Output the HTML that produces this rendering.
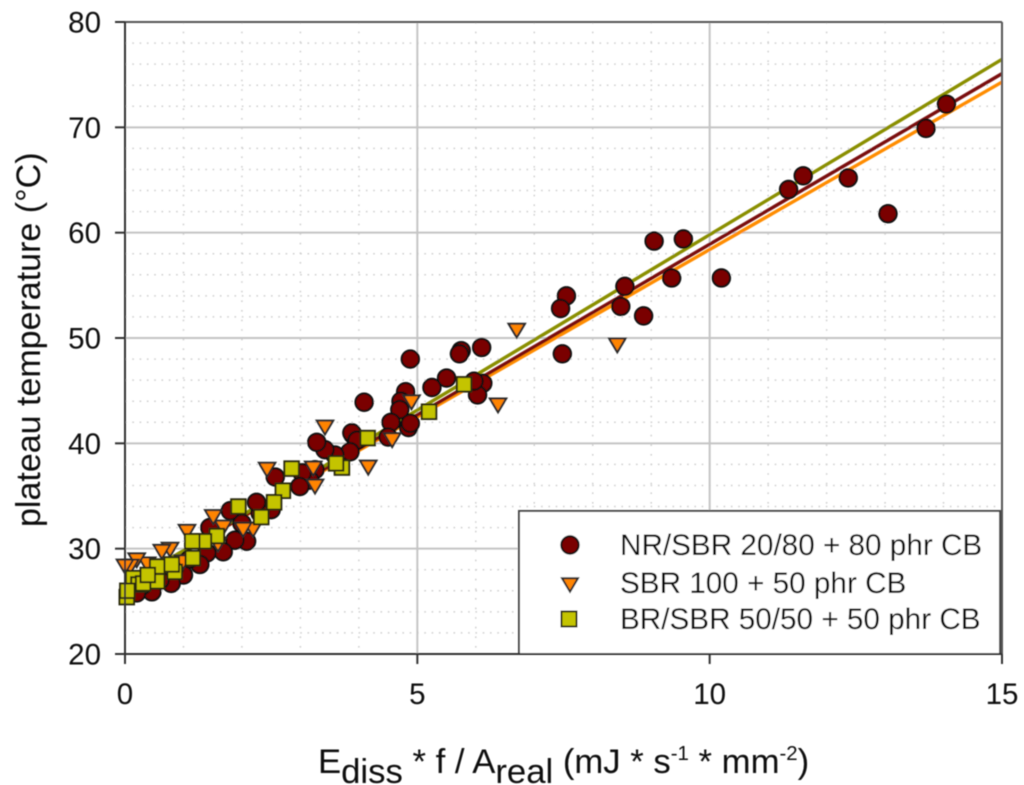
<!DOCTYPE html>
<html>
<head>
<meta charset="utf-8">
<style>
html,body{margin:0;padding:0;background:#fff;width:1024px;height:785px;overflow:hidden}
svg{display:block}
text{font-family:"Liberation Sans",sans-serif;fill:#0a0a0a}
</style>
</head>
<body>
<svg id="chart" width="1024" height="785" viewBox="0 0 1024 785" xmlns="http://www.w3.org/2000/svg">
<defs><filter id="soft" x="-2%" y="-2%" width="104%" height="104%"><feGaussianBlur stdDeviation="0.4"/></filter></defs>
<g id="root" filter="url(#soft)"></g>
</svg>
<script>
const xTicks = [0, 5, 10, 15];
const yTicks = [20, 30, 40, 50, 60, 70, 80];
const xMinor = [1, 2, 3, 4, 6, 7, 8, 9, 11, 12, 13, 14];
const yMinor = [22, 24, 26, 28, 32, 34, 36, 38, 42, 44, 46, 48, 52, 54, 56, 58, 62, 64, 66, 68, 72, 74, 76, 78];

const nrX = [14.05,13.7,13.05,12.37,11.6,11.35,10.2,9.55,9.35,9.05,8.87,8.55,8.48,7.55,7.45,7.48,6.1,6.12,6.03,5.97,5.75,5.72,5.5,5.25,4.88,4.8,4.72,4.7,4.85,4.88,4.55,4.5,4.09,3.9,3.88,3.97,3.85,3.59,3.42,3.28,3.25,3.16,3.03,2.99,2.57,2.5,2.31,2.25,2.08,2.0,1.88,1.8,1.68,1.45,1.4,1.28,1.1,1.0,0.85,0.79,0.6,0.46,0.3,0.2];
const nrY = [72.2,69.9,61.8,65.2,65.4,64.1,55.7,59.4,55.7,59.2,52.1,54.9,53,54,52.8,48.5,49.1,45.7,44.6,45.9,48.8,48.5,46.2,45.3,48,44.9,44,43.2,41.5,41.9,42,40.6,43.9,40.8,41,40.3,39.2,38.9,39.4,40.1,37.5,36.5,37.2,35.9,36.8,33.7,33.4,34.4,30.7,32.4,30.8,33.6,29.7,32,29.6,28.5,29,27.5,28.2,26.7,27,25.9,26.5,25.8];

const sbrX = [8.42,6.7,6.38,4.9,4.57,4.16,3.42,3.25,3.22,2.43,2.19,2.02,1.68,1.59,1.51,1.06,0.99,0.77,0.63,0.38,0.2,0.09,0.0];
const sbrY = [49.3,50.7,43.6,43.9,40.3,37.7,41.5,35.9,37.6,37.5,31.8,31.8,32,30.4,33,31.6,28.7,29.9,29.7,28.5,28.9,28.3,28.3];

const brX = [5.8,5.2,4.15,3.71,3.61,2.85,2.7,2.55,2.33,1.94,1.57,1.35,1.15,1.16,0.85,0.8,0.55,0.55,0.14,0.23,0.31,0.39,0.03,0.04];
const brY = [45.6,43,40.5,37.7,38.1,37.6,35.5,34.4,33,34,31.2,30.7,30.7,29.1,27.8,28.5,28.3,26.9,27.2,26.6,26.7,27.5,25.4,26];

const fitStartX = [0, 0, 0];
const fitEndX = [15, 15, 15];
const fitStartY = [26.5, 26.6, 26.5];
const fitEndY = [75.1, 74.3, 76.46];
const fitNames = ['fit-line-sbr', 'fit-line-nr-sbr', 'fit-line-br-sbr'];
const fitOrder = [1, 0, 2];
const fitColors = ['#7a0a0a', '#ff8c00', '#8a8f00'];

const legendLabels = ['NR/SBR 20/80 + 80 phr CB', 'SBR 100 + 50 phr CB', 'BR/SBR 50/50 + 50 phr CB'];

const NS = 'http://www.w3.org/2000/svg';
const root = document.getElementById('root');
const sx = v => 125 + (v - 0) * (1002 - 125) / 15;
const sy = v => 654 - (v - 20) * (654 - 22) / 60;

function mk(tag, attrs, parent) {
  const el = document.createElementNS(NS, tag);
  for (const k in attrs) el.setAttribute(k, attrs[k]);
  (parent || root).appendChild(el);
  return el;
}

/* minor grid */
xMinor.forEach(v => {
  const el = mk('line', {x1: sx(v), x2: sx(v), y1: 22, y2: 654, stroke: '#cfcfcf', 'stroke-width': 1.5, 'stroke-dasharray': '1.6 8'});
  
  
});
yMinor.forEach(v => {
  const el = mk('line', {x1: 125, x2: 1002, y1: sy(v), y2: sy(v), stroke: '#cfcfcf', 'stroke-width': 1.5, 'stroke-dasharray': '1.6 5.7'});
  
  
});
/* major grid */
xTicks.slice(1, -1).forEach(v => {
  const el = mk('line', {x1: sx(v), x2: sx(v), y1: 22, y2: 654, stroke: '#c4c4c4', 'stroke-width': 2});
  
  
});
yTicks.slice(1, -1).forEach(v => {
  const el = mk('line', {x1: 125, x2: 1002, y1: sy(v), y2: sy(v), stroke: '#c4c4c4', 'stroke-width': 2});
  
  
});

/* fit lines */
fitOrder.forEach((i, k) => {
  const el = mk('line', {x1: sx(fitStartX[i]), y1: sy(fitStartY[i]), x2: sx(fitEndX[i]), y2: sy(fitEndY[i]), stroke: fitColors[i], 'stroke-width': 3.4});
  
  
});

/* markers */
function circleAt(px, py, r, parent) {
  return mk('circle', {cx: px, cy: py, r: r, fill: '#7a0000', stroke: '#0a0a0a', 'stroke-width': 2}, parent);
}
function triAt(px, py, w, parent) {
  const h = w * 0.84;
  const pts = [[px - w / 2, py - h / 2], [px + w / 2, py - h / 2], [px, py + h / 2]].map(p => p.join(',')).join(' ');
  return mk('polygon', {points: pts, fill: '#ff8400', stroke: '#2a2a2a', 'stroke-width': 2, 'stroke-linejoin': 'miter'}, parent);
}
function squareAt(px, py, s, parent) {
  return mk('rect', {x: px - s / 2, y: py - s / 2, width: s, height: s, fill: '#c4c400', stroke: '#2a2a10', 'stroke-width': 2}, parent);
}
nrX.forEach((v, i) => {
  const el = circleAt(sx(v), sy(nrY[i]), 8.7);
  
  
});
sbrX.forEach((v, i) => {
  const el = triAt(sx(v), sy(sbrY[i]), 16.5);
  
  
});
brX.forEach((v, i) => {
  const el = squareAt(sx(v), sy(brY[i]), 14.5);
  
  
});

/* legend box */
const legendBox = mk('rect', {x: 519, y: 511, width: 481, height: 143, fill: '#fff', stroke: '#444', 'stroke-width': 2});


const lgA = circleAt(570, 545, 8.7);


const lgB = triAt(570, 585, 16);


const lgC = squareAt(569, 619, 15);


const legendBase = [555, 593, 629];
legendLabels.forEach((t, i) => {
  const el = mk('text', {x: 620, y: legendBase[i], 'font-size': 29.7});
  el.textContent = t;
  
  
});

/* frame */
const frameNames = ['axis-frame-top', 'axis-frame-right', 'x-axis-line', 'y-axis-line'];
const frameCoords = [[115, 22, 1002, 22, '#555'], [1002, 22, 1002, 664, '#555'], [115, 654, 1002, 654, '#333'], [125, 22, 125, 664, '#333']];
frameNames.forEach((n, i) => {
  const c = frameCoords[i];
  const el = mk('line', {x1: c[0], y1: c[1], x2: c[2], y2: c[3], stroke: c[4], 'stroke-width': 2});
  
  
});

/* ticks and labels */
xTicks.forEach(v => {
  const t = mk('line', {x1: sx(v), x2: sx(v), y1: 654, y2: 664, stroke: '#333', 'stroke-width': 2});
  
  
  const l = mk('text', {x: sx(v), y: 704, 'font-size': 29.5, 'text-anchor': 'middle'});
  l.textContent = v;
  
  
});
yTicks.forEach(v => {
  const t = mk('line', {x1: 115, x2: 125, y1: sy(v), y2: sy(v), stroke: '#333', 'stroke-width': 2});
  
  
  const l = mk('text', {x: 101, y: sy(v) + 10.5, 'font-size': 29.5, 'text-anchor': 'end'});
  l.textContent = v;
  
  
});

/* axis titles */
const yTitle = mk('text', {transform: 'translate(40,527) rotate(-90)', 'font-size': 34});
yTitle.textContent = 'plateau temperature (°C)';



const xTitle = mk('text', {x: 318, y: 773, 'font-size': 34.7});


const xParts = [['E', 0, 34.7], ['diss', 10, 34.7], [' * f / A', -10, 34.7], ['real', 10, 34.7], [' (mJ * s', -10, 34.7], ['-1', -13, 20.4], [' * mm', 13, 34.7], ['-2', -13, 20.4], [')', 13, 34.7]];
xParts.forEach(p => {
  const s = mk('tspan', {dy: p[1], 'font-size': p[2]}, xTitle);
  s.setAttribute('xml:space', 'preserve');
  s.style.whiteSpace = 'pre';
  s.textContent = p[0];
});
</script>
</body>
</html>
